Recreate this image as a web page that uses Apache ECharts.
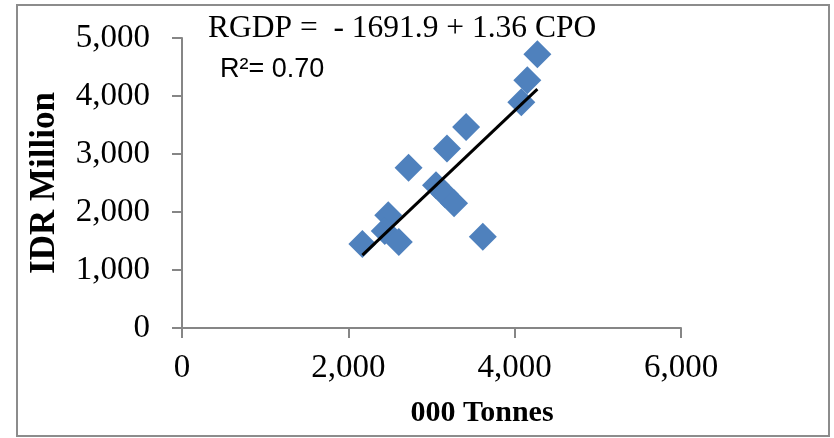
<!DOCTYPE html>
<html>
<head>
<meta charset="utf-8">
<script src="https://cdn.jsdelivr.net/npm/echarts@6/dist/echarts.min.js"></script>
<style>
html,body{margin:0;padding:0;background:#fff;}
#chart{width:834px;height:438px;}
</style>
</head>
<body>
<div id="chart"></div>
<script>
// CPO production (000 Tonnes) and RGDP (IDR Million)
var cpo  = [2169, 2480, 2438, 2607, 2724, 3054, 3162, 3271, 3186, 3416, 3617, 4080, 4152, 4273];
var rgdp = [1447, 1946, 1671, 1481, 2761, 2463, 2308, 2153, 3095, 3467, 1573, 3893, 4271, 4719];
// regression shown on the chart
var intercept = -1691.9;
var slope = 1.36;
var equationText = 'RGDP =  - 1691.9 + 1.36 CPO';
var r2Text = 'R\u00B2= 0.70';
var xTitle = '000 Tonnes';
var yTitle = 'IDR Million';

var points = cpo.map(function (x, i) { return [x, rgdp[i]]; });
var xMin = Math.min.apply(null, cpo), xMax = Math.max.apply(null, cpo);
var trend = [[xMin, intercept + slope * xMin], [xMax, intercept + slope * xMax]];

var serif = '"Liberation Serif", "Times New Roman", serif';
var axisColor = '#868686';

var chart = echarts.init(document.getElementById('chart'));
chart.setOption({
  animation: false,
  backgroundColor: '#fff',
  grid: { left: 182, right: 153, top: 38, bottom: 110, containLabel: false },
  xAxis: {
    type: 'value', min: 0, max: 6000, interval: 2000,
    axisLine: { show: true, lineStyle: { color: axisColor, width: 2 } },
    axisTick: { show: true, inside: false, length: 10, lineStyle: { color: axisColor, width: 2 } },
    splitLine: { show: false },
    axisLabel: {
      margin: 24, color: '#000', fontFamily: serif, fontSize: 33,
      formatter: function (v) { return v.toLocaleString('en-US'); }
    }
  },
  yAxis: {
    type: 'value', min: 0, max: 5000, interval: 1000,
    name: yTitle, nameLocation: 'middle', nameRotate: 90, nameGap: 120,
    nameTextStyle: { color: '#000', fontFamily: serif, fontSize: 35, fontWeight: 'bold' },
    axisLine: { show: true, lineStyle: { color: axisColor, width: 2 } },
    axisTick: { show: true, inside: false, length: 10, lineStyle: { color: axisColor, width: 2 } },
    splitLine: { show: false },
    axisLabel: {
      margin: 32, color: '#000', fontFamily: serif, fontSize: 33,
      formatter: function (v) { return v.toLocaleString('en-US'); }
    }
  },
  series: [
    {
      type: 'scatter', data: points, symbol: 'diamond', symbolSize: 28,
      itemStyle: { color: '#4F81BD', opacity: 1 }, z: 2
    },
    {
      type: 'line', data: trend, symbol: 'none', silent: true,
      lineStyle: { color: '#000', width: 3 }, z: 3
    }
  ],
  graphic: [
    {
      type: 'rect', silent: true, z: 0,
      shape: { x: 17, y: 5, width: 812, height: 431 },
      style: { fill: 'none', stroke: '#8c8c8c', lineWidth: 2 }
    },
    {
      type: 'text', x: 208, y: 29, z: 10,
      style: { text: equationText, fill: '#000', font: '31.5px ' + serif, textAlign: 'left', textVerticalAlign: 'middle', verticalAlign: 'middle' }
    },
    {
      type: 'text', x: 220, y: 70, z: 10,
      style: { text: r2Text, fill: '#000', font: '27px "Liberation Sans", Arial, sans-serif', textAlign: 'left', textVerticalAlign: 'middle', verticalAlign: 'middle' }
    },
    {
      type: 'text', x: 482, y: 413, z: 10,
      style: { text: xTitle, fill: '#000', font: 'bold 30px ' + serif, textAlign: 'center', align: 'center', textVerticalAlign: 'middle', verticalAlign: 'middle' }
    }
  ]
});
</script>
</body>
</html>
